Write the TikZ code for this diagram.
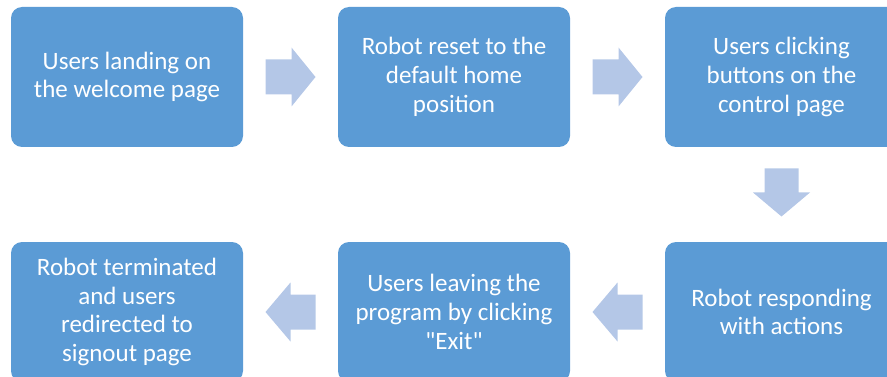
\documentclass[tikz,border=0pt]{standalone}
\usepackage{fontspec}
\setmainfont{Carlito}
% plain family without the TeX quote mapping, so " stays straight
\newfontfamily\boxfont{Carlito}
\usetikzlibrary{calc}
\definecolor{boxblue}{HTML}{5B9BD5}
\definecolor{arrowblue}{HTML}{B4C7E7}
\tikzset{
  stepbox/.style={fill=boxblue, draw=none, rounded corners=11pt, text=white,
    align=center, inner sep=0pt, minimum height=140pt,
    font=\boxfont\fontsize{25}{28.8}\selectfont},
  flowarrow/.style={fill=arrowblue, draw=none}
}
\begin{document}
\begin{tikzpicture}[x=1pt, y=-1pt]
  \useasboundingbox (0,0) rectangle (887,377);
  \begin{scope}
  \clip (0,0) rectangle (887,377);
  \node[stepbox, minimum width=232pt] (b1) at (127,77)
    {Users landing on\\the welcome page};
  \node[stepbox, minimum width=232pt] (b2) at (454,77)
    {Robot reset to the\\default home\\position};
  \node[stepbox, minimum width=233pt] (b3) at (781.5,77)
    {Users clicking\\buttons on the\\control page};
  \node[stepbox, minimum width=233pt] (b4) at (781.5,312)
    {Robot responding\\with actions};
  \node[stepbox, minimum width=232pt] (b5) at (454,312)
    {Users leaving the\\program by clicking\\"Exit"};
  \node[stepbox, minimum width=232pt] (b6) at (127,312)
    {Robot terminated\\and users\\redirected to\\signout page};
  \end{scope}

  % block arrows between the steps
  \coordinate (m12) at ($(b1.east)!0.5!(b2.west)$);
  \coordinate (m23) at ($(b2.east)!0.5!(b3.west)$);
  \coordinate (m34) at ($(b3.south)!0.5!(b4.north)$);
  \coordinate (m45) at ($(b4.west)!0.5!(b5.east)$);
  \coordinate (m56) at ($(b5.west)!0.5!(b6.east)$);

  \foreach \m in {m12,m23}{
    \fill[flowarrow] ($(\m)+(-25,-17.5)$) -- ($(\m)+(1,-17.5)$) -- ($(\m)+(1,-29.5)$)
      -- ($(\m)+(25,0)$) -- ($(\m)+(1,29.5)$) -- ($(\m)+(1,17.5)$)
      -- ($(\m)+(-25,17.5)$) -- cycle;
  }
  \foreach \m in {m45,m56}{
    \fill[flowarrow] ($(\m)+(25,-17.5)$) -- ($(\m)+(0,-17.5)$) -- ($(\m)+(0,-29.5)$)
      -- ($(\m)+(-25,0)$) -- ($(\m)+(0,29.5)$) -- ($(\m)+(0,17.5)$)
      -- ($(\m)+(25,17.5)$) -- cycle;
  }
  \fill[flowarrow] ($(m34)+(-17,-26)$) -- ($(m34)+(17,-26)$) -- ($(m34)+(17,-2)$)
    -- ($(m34)+(28.5,-2)$) -- ($(m34)+(0,22)$) -- ($(m34)+(-28.5,-2)$)
    -- ($(m34)+(-17,-2)$) -- cycle;
\end{tikzpicture}
\end{document}
